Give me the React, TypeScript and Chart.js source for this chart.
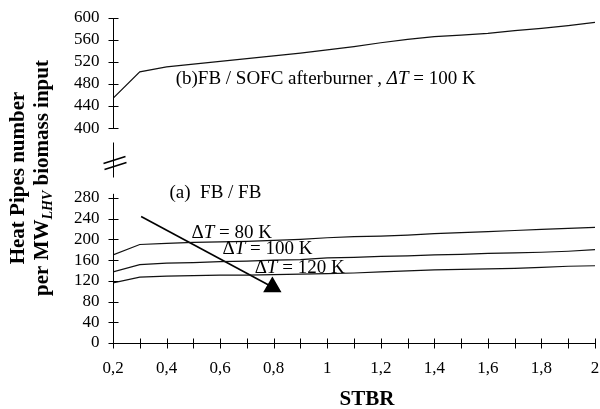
import React, { useEffect, useRef } from 'react';
import { Chart, registerables } from 'chart.js';

Chart.register(...registerables);

const FF = '"Liberation Serif", "Times New Roman", serif';

// ---- data ----
const stbr = [0.2, 0.3, 0.4, 0.5, 0.6, 0.7, 0.8, 0.9, 1.0, 1.1, 1.2, 1.3, 1.4, 1.5, 1.6, 1.7, 1.8, 1.9, 2.0];
const sofcDT100 = [454, 502, 511, 516, 521, 526, 531, 536, 542, 548, 555, 561, 566, 569, 572, 577, 581, 586, 592];
const fbDT80 = [170, 190, 192, 194, 195, 196, 198, 200, 203, 205, 206, 208, 211, 213, 215, 217, 219, 221, 223];
const fbDT100 = [137, 151, 154, 155, 157, 158, 160, 161, 164, 165, 167, 168, 170, 171, 173, 174, 175, 177, 180];
const fbDT120 = [116, 127, 129, 130, 131, 131, 132, 133, 134, 135, 137, 139, 141, 142, 143, 144, 146, 148, 149];

const arrowX = [0.305, 0.795];
const arrowY = [244, 108];

const topTicks = [400, 440, 480, 520, 560, 600];
const bottomTicks = [0, 40, 80, 120, 160, 200, 240, 280];
const xTickValues = [0.2, 0.3, 0.4, 0.5, 0.6, 0.7, 0.8, 0.9, 1.0, 1.1, 1.2, 1.3, 1.4, 1.5, 1.6, 1.7, 1.8, 1.9, 2.0];
const xTickLabels = ['0,2', '', '0,4', '', '0,6', '', '0,8', '', '1', '', '1,2', '', '1,4', '', '1,6', '', '1,8', '', '2'];

const xTitle = 'STBR';
const yTitleLine1 = 'Heat Pipes number';
const yTitleLine2 = ['per MW', 'LHV', ' biomass input'];

type Part = { t: string; i?: boolean };
const labelB: Part[] = [{ t: '(b)FB / SOFC afterburner , ' }, { t: 'ΔT', i: true }, { t: ' = 100 K' }];
const labelA: Part[] = [{ t: '(a)  FB / FB' }];
const label80: Part[] = [{ t: 'Δ' }, { t: 'T', i: true }, { t: ' = 80 K' }];
const label100: Part[] = [{ t: 'Δ' }, { t: 'T', i: true }, { t: ' = 100 K' }];
const label120: Part[] = [{ t: 'Δ' }, { t: 'T', i: true }, { t: ' = 120 K' }];

const toPts = (ys: number[]) => stbr.map((x, i) => ({ x, y: ys[i] }));

const drawParts = (ctx: CanvasRenderingContext2D, parts: Part[], x: number, y: number, size: number) => {
  let cx = x;
  for (const p of parts) {
    ctx.font = `${p.i ? 'italic ' : ''}${size}px ${FF}`;
    ctx.fillText(p.t, cx, y);
    cx += ctx.measureText(p.t).width;
  }
};

const decorPlugin = {
  id: 'decor',
  afterDraw(chart: any) {
    const ctx: CanvasRenderingContext2D = chart.ctx;
    const { chartArea } = chart;
    const xs = chart.scales.x;
    const yb = chart.scales.y;
    const yt = chart.scales.yTop;
    const ax = Math.round(chartArea.left) + 0.5;
    const bottomPx = Math.round(chartArea.bottom) + 0.5;
    ctx.save();
    ctx.strokeStyle = '#000';
    ctx.fillStyle = '#000';
    ctx.lineWidth = 1;

    // top y axis
    ctx.beginPath();
    ctx.moveTo(ax, yt.getPixelForValue(600));
    ctx.lineTo(ax, yt.getPixelForValue(400));
    for (const v of topTicks) {
      const p = Math.round(yt.getPixelForValue(v)) + 0.5;
      ctx.moveTo(ax - 5, p);
      ctx.lineTo(ax + 5, p);
    }
    // bottom y axis
    ctx.moveTo(ax, yb.getPixelForValue(280) - 4);
    ctx.lineTo(ax, bottomPx);
    for (const v of bottomTicks) {
      const p = Math.round(yb.getPixelForValue(v)) + 0.5;
      ctx.moveTo(ax - 5, p);
      ctx.lineTo(ax + 5, p);
    }
    // x axis
    ctx.moveTo(ax, bottomPx);
    ctx.lineTo(Math.round(chartArea.right) + 0.5, bottomPx);
    for (const v of xTickValues) {
      const p = Math.round(xs.getPixelForValue(v)) + 0.5;
      ctx.moveTo(p, bottomPx - 5);
      ctx.lineTo(p, bottomPx + 5);
    }
    ctx.stroke();

    // axis break
    const b = yt.bottom;
    ctx.beginPath();
    ctx.moveTo(ax, b - 18);
    ctx.lineTo(ax, b + 17);
    ctx.stroke();
    ctx.lineWidth = 1.6;
    ctx.beginPath();
    ctx.moveTo(ax - 10, b + 3);
    ctx.lineTo(ax + 12, b - 4);
    ctx.moveTo(ax - 9, b + 9);
    ctx.lineTo(ax + 13, b + 2);
    ctx.stroke();

    // annotations
    ctx.textAlign = 'left';
    ctx.textBaseline = 'alphabetic';
    drawParts(ctx, labelB, xs.getPixelForValue(0.434), yt.getPixelForValue(480), 19);
    drawParts(ctx, labelA, xs.getPixelForValue(0.411), yb.getPixelForValue(280), 19);
    drawParts(ctx, label80, xs.getPixelForValue(0.493), yb.getPixelForValue(202), 19);
    drawParts(ctx, label100, xs.getPixelForValue(0.609), yb.getPixelForValue(172), 19);
    drawParts(ctx, label120, xs.getPixelForValue(0.729), yb.getPixelForValue(134.6), 19);

    // x title
    ctx.font = `bold 21px ${FF}`;
    ctx.textAlign = 'center';
    ctx.fillText(xTitle, 367, 405);

    // y title
    ctx.save();
    ctx.translate(24, 178);
    ctx.rotate(-Math.PI / 2);
    ctx.font = `bold 21px ${FF}`;
    ctx.textAlign = 'center';
    ctx.fillText(yTitleLine1, 0, 0);
    ctx.restore();

    ctx.save();
    ctx.translate(48, 178);
    ctx.rotate(-Math.PI / 2);
    ctx.textAlign = 'left';
    const fonts = [`bold 21px ${FF}`, `italic bold 14px ${FF}`, `bold 21px ${FF}`];
    const dys = [0, 4, 0];
    let total = 0;
    yTitleLine2.forEach((t, i) => {
      ctx.font = fonts[i];
      total += ctx.measureText(t).width;
    });
    let cx = -total / 2;
    yTitleLine2.forEach((t, i) => {
      ctx.font = fonts[i];
      ctx.fillText(t, cx, dys[i]);
      cx += ctx.measureText(t).width;
    });
    ctx.restore();

    ctx.restore();
  },
};

export default function App() {
  const ref = useRef<HTMLCanvasElement | null>(null);

  useEffect(() => {
    document.body.style.margin = '0';
    if (!ref.current) return;
    const lineDs = (data: number[], axis: string) => ({
      data: toPts(data),
      yAxisID: axis,
      borderColor: '#111',
      borderWidth: 1.2,
      pointRadius: 0,
      tension: 0,
      fill: false,
    });
    const tickFont = { family: FF, size: 17 };
    const hiddenTicksGrid = (len: number) => ({
      display: true,
      drawOnChartArea: false,
      drawTicks: true,
      tickLength: len,
      color: 'rgba(0,0,0,0)',
    });
    const chart = new Chart(ref.current, {
      type: 'line',
      data: {
        datasets: [
          lineDs(fbDT80, 'y'),
          lineDs(fbDT100, 'y'),
          lineDs(fbDT120, 'y'),
          lineDs(sofcDT100, 'yTop'),
          {
            data: arrowX.map((x, i) => ({ x, y: arrowY[i] })),
            yAxisID: 'y',
            borderColor: '#000',
            borderWidth: 1.6,
            pointRadius: [0, 9],
            pointStyle: 'triangle',
            pointBackgroundColor: '#000',
            pointBorderColor: '#000',
            tension: 0,
            fill: false,
          } as any,
        ],
      },
      options: {
        responsive: false,
        animation: false,
        events: [],
        layout: { autoPadding: false, padding: { left: 0, right: 5, top: 18, bottom: 0 } } as any,
        plugins: { legend: { display: false }, tooltip: { enabled: false } },
        scales: {
          x: {
            type: 'linear',
            min: 0.2,
            max: 2,
            grid: hiddenTicksGrid(15),
            border: { display: false },
            afterBuildTicks: (s: any) => {
              s.ticks = xTickValues.map((v) => ({ value: v }));
            },
            afterFit: (s: any) => {
              s.height = 66;
            },
            ticks: {
              autoSkip: false,
              maxRotation: 0,
              padding: 0,
              color: '#000',
              font: tickFont,
              callback: (_v: any, i: number) => xTickLabels[i],
            },
          },
          y: {
            type: 'linear',
            position: 'left',
            stack: 'v',
            stackWeight: 182.5,
            min: 0,
            max: 352,
            grid: hiddenTicksGrid(13.5),
            border: { display: false },
            afterBuildTicks: (s: any) => {
              s.ticks = bottomTicks.map((v) => ({ value: v }));
            },
            afterFit: (s: any) => {
              s.width = 113;
            },
            ticks: { padding: 0, color: '#000', font: tickFont, autoSkip: false },
          },
          yTop: {
            type: 'linear',
            position: 'left',
            stack: 'v',
            stackWeight: 142.5,
            min: 341,
            max: 600,
            grid: hiddenTicksGrid(13.5),
            border: { display: false },
            afterBuildTicks: (s: any) => {
              s.ticks = topTicks.map((v) => ({ value: v }));
            },
            afterFit: (s: any) => {
              s.width = 113;
            },
            ticks: { padding: 0, color: '#000', font: tickFont, autoSkip: false },
          },
        } as any,
      },
      plugins: [decorPlugin],
    });
    return () => chart.destroy();
  }, []);

  return (
    <div style={{ width: 600, height: 409, background: '#fff' }}>
      <canvas ref={ref} width={600} height={409} style={{ display: 'block' }} />
    </div>
  );
}
